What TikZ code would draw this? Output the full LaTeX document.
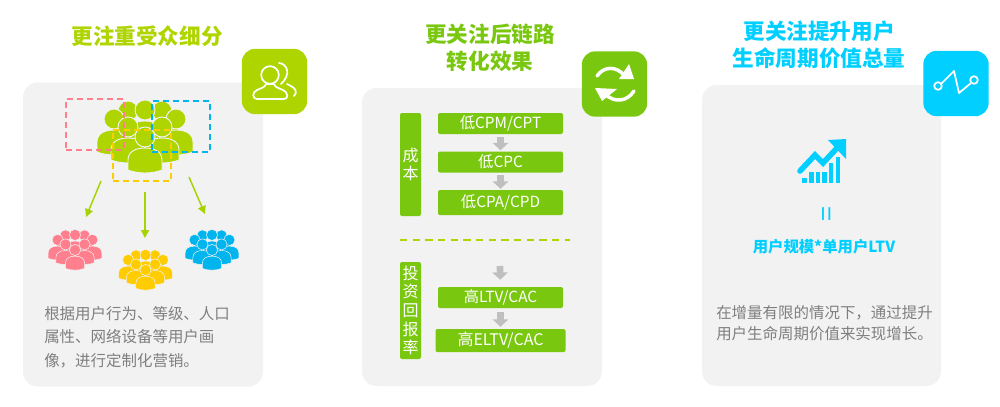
\documentclass[tikz,border=0pt]{standalone}
\usepackage{fontspec}
\setmainfont{Noto Sans CJK SC}
\usetikzlibrary{arrows.meta,positioning}

\definecolor{limegreen}{HTML}{AED500}
\definecolor{leafgreen}{HTML}{7AC70F}
\definecolor{skyblue}{HTML}{00CFFF}
\definecolor{cardgrey}{HTML}{F2F2F2}
\definecolor{textgrey}{HTML}{7F7F7F}
\definecolor{blockgrey}{HTML}{BFBFBF}
\definecolor{crowdpink}{HTML}{FF7F8E}
\definecolor{crowdyellow}{HTML}{FFCC00}
\definecolor{crowdblue}{HTML}{00B4EE}

\tikzset{
    card/.style={fill=cardgrey,rounded corners=11pt,inner sep=0pt},
    iconbox/.style={fill=#1,rounded corners=10pt,inner sep=0pt,minimum size=49pt},
    heading/.style={text=#1,font=\fontsize{16.2}{20}\selectfont\bfseries,align=center,inner sep=0pt},
    stepbox/.style={fill=leafgreen,rounded corners=1.5pt,text=white,inner sep=0pt,
        minimum width=93.75pt,minimum height=15.75pt,font=\fontsize{11.5}{13}\selectfont},
    sidebar/.style={fill=leafgreen,rounded corners=1.5pt,text=white,inner sep=0pt,
        minimum width=15.75pt,align=center,font=\fontsize{12}{14}\selectfont},
    dashbox/.style={draw=#1,line width=1.1pt,dash pattern=on 4.5pt off 3pt,inner sep=0pt,
        minimum width=43.5pt,minimum height=38.25pt},
    blurb/.style={text=textgrey,align=left,inner sep=0pt,anchor=west},
    blockarrow/.style={draw=blockgrey,line width=5pt,
        -{Triangle[length=5.5pt,width=11.5pt]}},
    splitarrow/.style={draw=limegreen!85!leafgreen,line width=1.1pt,
        -{Triangle[length=6pt,width=6pt]}},
    iconline/.style={draw=white,line width=1.3pt,line cap=round,line join=round},
    pics/person/.style n args={2}{code={
        \fill[#1,draw=cardgrey,line width=#2] (0,0) circle (10);
        \fill[#1,draw=cardgrey,line width=#2] (-17,33) -- (-17,23)
            .. controls (-17,15) and (-10,11) .. (0,11)
            .. controls (10,11) and (17,15) .. (17,23) -- (17,33)
            .. controls (7,37) and (-7,37) .. (-17,33) -- cycle;
    }},
    pics/crowd/.style n args={2}{code={
        \foreach \dx/\dy in {-17/-26,17/-26,0/-27,-31/-18,31/-18,-17/-10,17/-10,0/0}
            \pic[transform shape] at (\dx,\dy) {person={#1}{#2}};
    }}
}

\begin{document}
\begin{tikzpicture}[x=.75pt,y=-.75pt,node distance=28.9pt]
    \useasboundingbox (0,0) rectangle (1000,407);

    % cards
    \node[card,minimum width=180pt,minimum height=228pt]     (cardA) at (143,234.5) {};
    \node[card,minimum width=180pt,minimum height=223.5pt]   (cardB) at (482,237) {};
    \node[card,minimum width=179.25pt,minimum height=225.75pt] (cardC) at (821.5,235.5) {};

    % headings and icon squares
    \node[heading=limegreen] (titleA) at (147,36) {更注重受众细分};
    \node[heading=leafgreen] (titleB) at (490,48) {更关注后链路\\转化效果};
    \node[heading=skyblue]   (titleC) at (819,45) {更关注提升用户\\生命周期价值总量};
    \node[iconbox=limegreen] (iconA) at (274.5,81.5) {};
    \node[iconbox=leafgreen] (iconB) at (614.5,84) {};
    \node[iconbox=skyblue]   (iconC) at (956,83.5) {};

    % people icon
    \draw[iconline] (270,75) circle (8.8);
    \draw[iconline] (257,99) -- (284,99)
        .. controls (289,99) and (288,92) .. (283,90)
        .. controls (278,88) and (275,87) .. (274,84) -- (266,84)
        .. controls (265,87) and (262,88) .. (257,90)
        .. controls (252,92) and (252,99) .. (257,99) -- cycle;
    \draw[iconline] (279,63) .. controls (288,64) and (291,75) .. (281,84);
    \draw[iconline] (287,84) .. controls (296,88) and (298,92) .. (294,96);

    % refresh icon
    \draw[iconline,line width=2.6pt] (597,76) .. controls (604,66) and (616,66) .. (624,75);
    \fill[white] (634,79) -- (629,64) -- (619,79) -- cycle;
    \draw[iconline,line width=2.6pt] (634,91) .. controls (627,102) and (614,103) .. (605,94);
    \fill[white] (595,88) -- (617,89) -- (602,101) -- cycle;

    % zigzag icon
    \draw[iconline] (938,86) circle (3.8);
    \draw[iconline] (974,80) circle (3.8);
    \draw[iconline,line cap=butt] (941,84) -- (954,71) -- (959,93) -- (971,83);

    % left card
    \pic (bigcrowd) at (145,137) {crowd={limegreen}{.7pt}};
    \node[dashbox=crowdpink]   (pinkbox)   at (95,124.5)  {};
    \node[dashbox=crowdblue]   (bluebox)   at (181,126.5) {};
    \node[dashbox=crowdyellow] (yellowbox) at (142,155.5) {};
    \coordinate (splitL) at (101,181);
    \coordinate (splitM) at (145,192);
    \coordinate (splitR) at (189,177);
    \coordinate (groupL) at (86,217);
    \coordinate (groupM) at (145,238);
    \coordinate (groupR) at (205,214);
    \path
    (splitL) edge[splitarrow] (groupL)
    (splitM) edge[splitarrow] (groupM)
    (splitR) edge[splitarrow] (groupR);
    \pic[scale=.56] (pinkcrowd)   at (75,250)  {crowd={crowdpink}{.4pt}};
    \pic[scale=.56] (yellowcrowd) at (145.5,270) {crowd={crowdyellow}{.4pt}};
    \pic[scale=.56] (bluecrowd)   at (212,250) {crowd={crowdblue}{.4pt}};
    \node[blurb,font=\fontsize{11.6}{17.6}\selectfont] (textA) at (44,337)
        {根据用户行为、等级、人口\\属性、网络设备等用户画\\像，进行定制化营销。};

    % middle card
    \node[sidebar,minimum height=77.25pt] (cost) at (410.5,164.5) {成\\本};
    \node[stepbox] (cpm) at (500.5,123.5) {低CPM/CPT};
    \node[stepbox] (cpc) [below of=cpm] {低CPC};
    \node[stepbox,minimum height=18.75pt] (cpa) [below of=cpc,yshift=-1.5pt] {低CPA/CPD};
    \coordinate (cutL) at (400,240);
    \coordinate (cutR) at (570,240);
    \draw[limegreen,line width=1.5pt,dash pattern=on 5.5pt off 4pt] (cutL) -- (cutR);
    \node[sidebar,minimum height=72.75pt] (roi) at (410.5,310.5) {投\\资\\回\\报\\率};
    \coordinate (ltvin) at (500,266);
    \node[stepbox] (ltv) at (500.5,297.5) {高LTV/CAC};
    \node[stepbox,minimum width=97.5pt,minimum height=17.25pt,font=\fontsize{12}{14}\selectfont]
        (eltv) [below of=ltv,yshift=-3.4pt] {高ELTV/CAC};
    \path
    (cpm) edge[blockarrow,shorten <=2pt,shorten >=.75pt] (cpc)
    (cpc) edge[blockarrow,shorten <=2pt,shorten >=.75pt] (cpa)
    (ltvin) edge[blockarrow,shorten >=5.25pt] (ltv)
    (ltv) edge[blockarrow,shorten <=3pt,shorten >=1.5pt] (eltv);

    % right card
    \foreach \barx/\bartop in {802/178,809/172,815.5/172,822/172,828.5/163,835.5/157}
        \fill[skyblue] (\barx,183) rectangle (\barx+4.5,\bartop);
    \draw[draw=skyblue,line width=4.2pt,line cap=round,line join=miter,
        preaction={draw=cardgrey,line width=6.5pt}]
        (800,171) -- (815,155) -- (823,163) -- (838,147);
    \fill[skyblue] (846,139) -- (828,140) -- (846,159) -- cycle;
    \node[rotate=90,text=skyblue,inner sep=0pt,font=\fontsize{20}{20}\selectfont] (equals) at (829.5,214.5) {=};
    \node[text=skyblue,inner sep=0pt,font=\fontsize{11.5}{13}\selectfont\bfseries] (formula) at (824,247) {用户规模*单用户LTV};
    \node[blurb,font=\fontsize{11.6}{15.4}\selectfont] (textC) at (716,323)
        {在增量有限的情况下，通过提升\\用户生命周期价值来实现增长。};
\end{tikzpicture}
\end{document}
